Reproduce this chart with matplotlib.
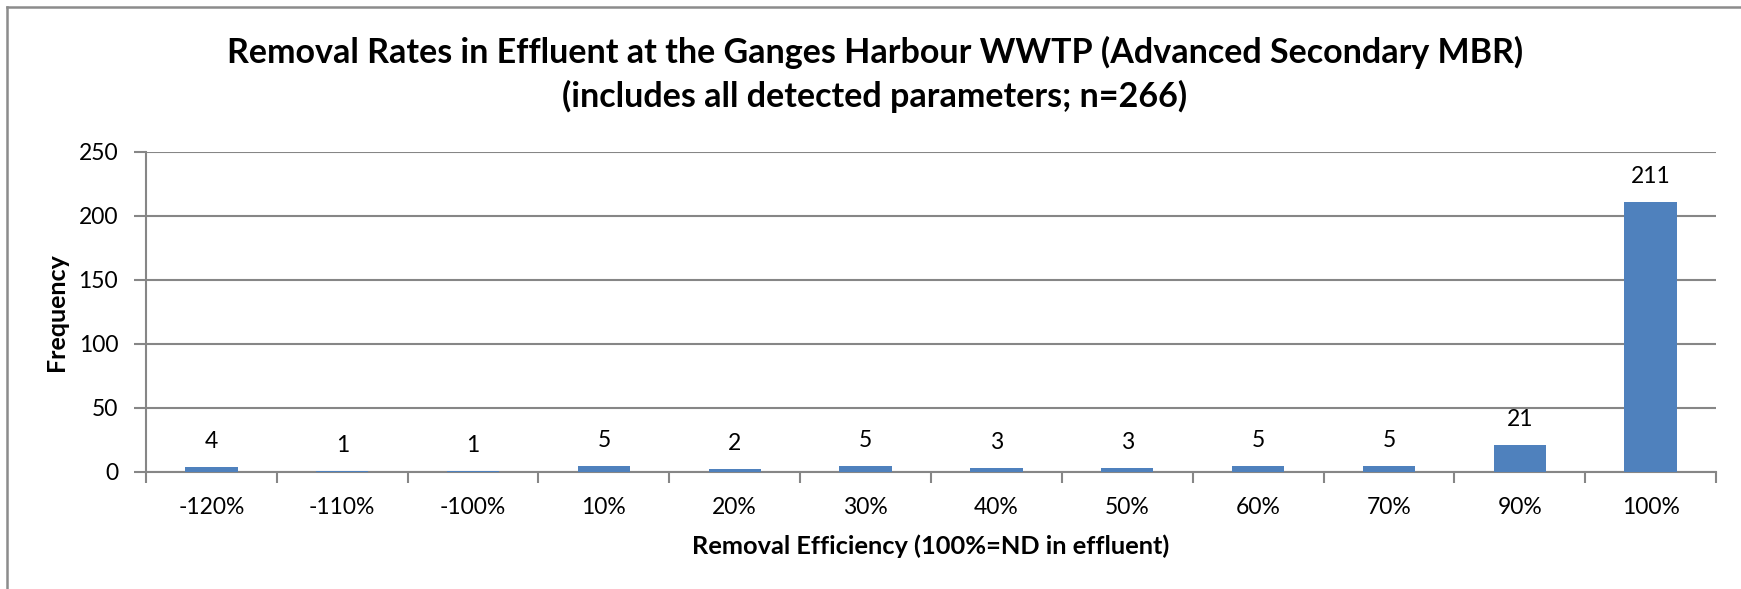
import matplotlib
matplotlib.use("Agg")
import matplotlib.pyplot as plt
from matplotlib.lines import Line2D
import numpy as np

plt.rcParams['font.family'] = ['Lato', 'DejaVu Sans']

categories = ['-120%', '-110%', '-100%', '10%', '20%', '30%', '40%', '50%', '60%', '70%', '90%', '100%']
frequency = [4, 1, 1, 5, 2, 5, 3, 3, 5, 5, 21, 211]
y_ticks = [0, 50, 100, 150, 200, 250]

title_line1 = 'Removal Rates in Effluent at the Ganges Harbour WWTP (Advanced Secondary MBR)'
title_line2 = '(includes all detected parameters; n=266)'
x_label = 'Removal Efficiency (100%=ND in effluent)'
y_label = 'Frequency'

W, H = 1741, 589
fig = plt.figure(figsize=(W / 100, H / 100), dpi=100)
fig.patch.set_facecolor('white')

left, right, top, bottom = 146, 1716, 152, 472
ax = fig.add_axes([left / W, 1 - bottom / H, (right - left) / W, (bottom - top) / H])

bar_color = '#4F81BD'
grid_color = '#868686'
tick_fs = 16.5
x = np.arange(len(categories))
bars = ax.bar(x, frequency, width=0.4, color=bar_color, zorder=3)

for xi, v in zip(x, frequency):
    ax.annotate(str(v), xy=(xi, v), xytext=(0, 13.7), textcoords='offset points',
                ha='center', va='baseline', fontsize=tick_fs, color='black')

ax.set_xlim(-0.5, len(categories) - 0.5)
ax.set_ylim(0, 250)
ax.set_yticks(y_ticks)
ax.set_yticklabels([str(t) for t in y_ticks], fontsize=tick_fs)
ax.set_xticks(x)
ax.set_xticklabels(categories, fontsize=tick_fs)
ax.set_xticks(np.arange(-0.5, len(categories), 1.0), minor=True)

ax.tick_params(axis='x', which='major', length=0, pad=18)
ax.tick_params(axis='x', which='minor', length=8, width=1.5, color=grid_color, direction='out')
ax.tick_params(axis='y', which='major', length=9, width=1.5, color=grid_color, direction='out', pad=11)

ax.yaxis.grid(True, color=grid_color, linewidth=1.5, zorder=0)
ax.set_axisbelow(True)
for s in ['top', 'right']:
    ax.spines[s].set_visible(False)
for s in ['left', 'bottom']:
    ax.spines[s].set_color(grid_color)
    ax.spines[s].set_linewidth(1.5)

ax.set_xlabel(x_label, fontsize=18.3, fontweight='bold')
ax.xaxis.set_label_coords(0.5, (bottom - 554) / (bottom - top))
ax.xaxis.label.set_va('baseline')
ax.set_ylabel(y_label, fontsize=18, fontweight='bold')
ax.yaxis.set_label_coords((57 - left) / (right - left), 0.5)
ax.yaxis.label.set_va('center')

fig.text(875 / W, 1 - 63 / H, title_line1, ha='center', va='baseline', fontsize=24.5, fontweight='bold')
fig.text(875 / W, 1 - 107 / H, title_line2, ha='center', va='baseline', fontsize=24.5, fontweight='bold')

# chart border (top and left visible)
fig.add_artist(Line2D([7 / W, 1.0], [1 - 7 / H, 1 - 7 / H], transform=fig.transFigure, color='#8c8c8c', linewidth=1.8))
fig.add_artist(Line2D([7 / W, 7 / W], [0.0, 1 - 7 / H], transform=fig.transFigure, color='#8c8c8c', linewidth=1.8))

fig.savefig('out.png', dpi=100, facecolor='white')
